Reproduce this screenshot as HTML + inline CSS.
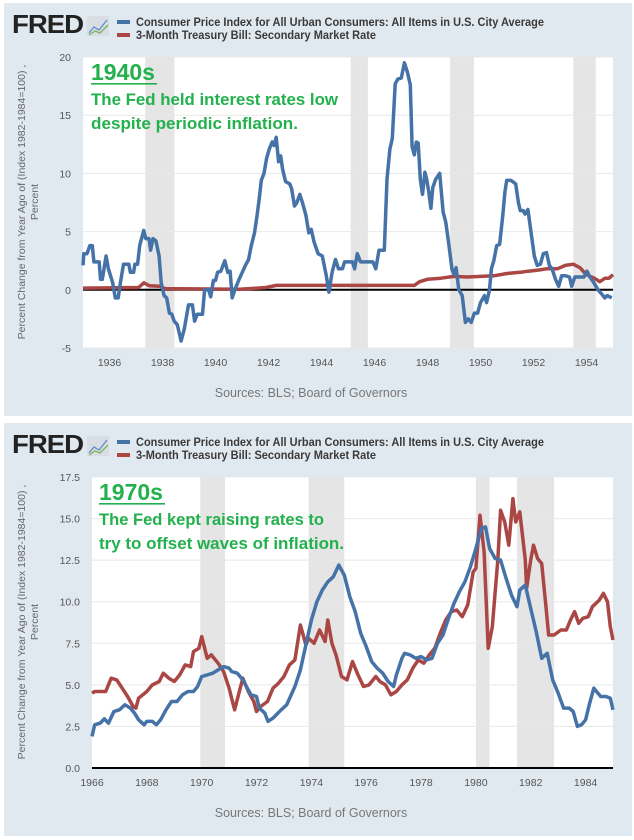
<!DOCTYPE html>
<html><head><meta charset="utf-8"><style>
html,body{margin:0;padding:0;background:#fff;}
svg{display:block;font-family:"Liberation Sans",sans-serif;}
</style></head><body>
<svg id="c" width="634" height="840" xmlns="http://www.w3.org/2000/svg"></svg>
<script>
// ---- Top chart data (1935-1955)
const topCpiYears=[1935.00,1935.03,1935.15,1935.26,1935.35,1935.41,1935.61,1935.66,1935.73,1935.87,1935.96,1936.12,1936.22,1936.33,1936.41,1936.53,1936.73,1936.79,1936.91,1936.96,1937.06,1937.14,1937.29,1937.37,1937.49,1937.55,1937.64,1937.75,1937.87,1937.95,1938.06,1938.16,1938.26,1938.35,1938.44,1938.56,1938.70,1938.82,1938.98,1939.13,1939.21,1939.31,1939.51,1939.59,1939.74,1939.82,1939.92,1940.00,1940.08,1940.20,1940.35,1940.46,1940.55,1940.63,1940.73,1940.89,1941.01,1941.13,1941.25,1941.35,1941.47,1941.57,1941.65,1941.73,1941.83,1941.93,1942.03,1942.14,1942.21,1942.29,1942.38,1942.46,1942.53,1942.64,1942.80,1942.87,1942.98,1943.07,1943.18,1943.28,1943.41,1943.52,1943.61,1943.72,1943.87,1944.03,1944.18,1944.28,1944.40,1944.53,1944.64,1944.79,1944.87,1945.02,1945.17,1945.25,1945.35,1945.47,1945.63,1945.94,1946.05,1946.17,1946.28,1946.37,1946.47,1946.58,1946.67,1946.78,1946.88,1947.01,1947.13,1947.24,1947.35,1947.42,1947.50,1947.58,1947.65,1947.73,1947.81,1947.90,1947.97,1948.05,1948.13,1948.20,1948.31,1948.46,1948.59,1948.69,1948.81,1948.92,1949.00,1949.08,1949.18,1949.31,1949.43,1949.54,1949.65,1949.77,1949.89,1950.00,1950.15,1950.23,1950.34,1950.41,1950.50,1950.61,1950.72,1950.84,1950.92,1950.99,1951.15,1951.33,1951.43,1951.50,1951.61,1951.68,1951.79,1951.91,1952.03,1952.14,1952.26,1952.37,1952.49,1952.60,1952.70,1952.83,1952.95,1953.06,1953.21,1953.36,1953.44,1953.56,1953.71,1953.90,1954.02,1954.13,1954.28,1954.43,1954.55,1954.69,1954.78,1954.95];
const topCpiValues=[2.1,3.1,3.1,3.8,3.8,2.4,2.4,0.9,0.9,2.9,1.8,0.6,-0.7,-0.7,0.6,2.2,2.2,1.5,1.5,2.2,2.2,3.8,5.1,4.4,4.4,3.4,4.4,4.2,2.9,0.6,-0.5,-0.7,-2.0,-2.1,-2.7,-3.0,-4.4,-3.4,-1.3,-1.3,-2.7,-2.1,-2.1,0,0,-0.6,0.8,0.8,1.5,1.6,2.5,1.5,1.6,-0.7,0,0.9,1.5,2.1,2.6,3.8,4.9,6.4,7.8,9.4,10,11.3,12.1,12.7,12.4,13.1,11.0,11.5,10.4,9.3,9.1,8.7,7.2,7.5,8.2,7.5,6.4,4.9,5.2,4.1,3.1,2.9,1.2,-0.2,1.5,2.6,1.8,1.8,2.4,2.4,2.4,1.8,3.1,2.4,2.4,2.4,1.8,3.4,3.4,3.4,9.5,12.1,13.0,17.7,18.1,18.2,19.5,18.7,17.6,12.3,11.6,12.7,12.6,9.5,8.2,10.1,9.5,8.4,7.0,8.8,9.5,10.0,6.7,5.8,3.8,1.8,1.35,1.9,0,-0.5,-2.8,-2.5,-2.8,-2.0,-2.0,-1.1,-0.5,-1.1,0,1.8,2.5,3.8,3.9,6.4,8.4,9.4,9.4,9.1,7.5,6.8,6.8,6.5,6.9,4.9,2.9,2.1,2.2,3.1,3.2,2.1,1.8,0.9,0.3,1.2,1.2,1.1,0.3,1.1,1.1,1.1,1.6,1.1,0.6,0,-0.3,-0.7,-0.5,-0.7];
const topTbYears=[1935.0,1937.1,1937.3,1937.5,1937.9,1938.1,1940.9,1941.3,1941.9,1942.3,1947.5,1947.7,1948.0,1948.5,1949.0,1949.5,1950.0,1950.5,1951.0,1951.5,1951.8,1952.2,1952.5,1952.9,1953.2,1953.5,1953.75,1954.0,1954.3,1954.5,1954.7,1954.85,1955.0];
const topTbValues=[0.15,0.2,0.6,0.35,0.3,0.1,0.05,0.1,0.2,0.38,0.38,0.7,0.9,1.0,1.15,1.1,1.15,1.2,1.4,1.5,1.6,1.7,1.8,1.8,2.1,2.2,1.9,1.3,1.0,0.7,1.0,1.0,1.3];
const topRecessions=[[1937.35,1938.45],[1945.1,1945.75],[1948.85,1949.75],[1953.5,1954.35]];
const topYTicks=[-5,0,5,10,15,20];
const topXTicks=[1936,1938,1940,1942,1944,1946,1948,1950,1952,1954];

// ---- Bottom chart data (1966-1985)
const botCpiYears=[1966.0,1966.1,1966.3,1966.45,1966.6,1966.8,1967.0,1967.2,1967.4,1967.55,1967.7,1967.9,1968.0,1968.2,1968.35,1968.5,1968.7,1968.9,1969.1,1969.3,1969.5,1969.7,1969.85,1970.0,1970.2,1970.4,1970.6,1970.8,1971.0,1971.1,1971.3,1971.5,1971.8,1972.0,1972.1,1972.3,1972.42,1972.6,1972.9,1973.1,1973.4,1973.6,1973.8,1974.0,1974.2,1974.4,1974.6,1974.8,1975.0,1975.2,1975.4,1975.6,1975.8,1976.0,1976.2,1976.4,1976.6,1976.8,1977.0,1977.1,1977.3,1977.4,1977.6,1977.8,1978.0,1978.2,1978.4,1978.6,1978.8,1979.0,1979.2,1979.4,1979.6,1979.8,1980.0,1980.2,1980.35,1980.5,1980.7,1980.9,1981.1,1981.3,1981.5,1981.6,1981.8,1982.0,1982.2,1982.4,1982.6,1982.8,1983.0,1983.2,1983.4,1983.55,1983.7,1983.85,1984.0,1984.15,1984.3,1984.55,1984.75,1984.9,1985.0];
const botCpiValues=[1.9,2.6,2.7,2.95,2.7,3.4,3.5,3.8,3.6,3.3,2.9,2.6,2.8,2.8,2.6,2.9,3.5,4.0,4.0,4.4,4.6,4.6,4.9,5.5,5.6,5.7,5.9,6.1,6.0,5.8,5.7,5.3,4.4,4.3,3.6,3.3,2.8,3.0,3.5,3.8,4.9,5.9,7.4,8.9,10.0,10.7,11.2,11.5,12.2,11.6,10.3,9.4,8.1,7.3,6.4,6.0,5.7,5.2,4.9,5.6,6.6,6.9,6.8,6.6,6.7,6.5,6.6,7.5,8.0,9.0,9.9,10.6,11.2,12.1,13.2,14.4,14.5,13.2,12.6,12.5,11.4,10.4,9.7,10.7,11.0,9.6,8.2,6.6,6.9,5.3,4.5,3.6,3.6,3.4,2.5,2.6,2.9,3.9,4.8,4.3,4.3,4.2,3.5];
const botTbYears=[1966.0,1966.1,1966.5,1966.7,1966.9,1967.1,1967.3,1967.5,1967.6,1967.7,1968.0,1968.2,1968.45,1968.6,1968.8,1969.0,1969.2,1969.4,1969.6,1969.7,1969.9,1970.0,1970.2,1970.35,1970.6,1970.8,1971.0,1971.2,1971.5,1971.7,1971.9,1972.0,1972.15,1972.4,1972.6,1972.8,1973.0,1973.2,1973.4,1973.6,1973.8,1973.9,1974.1,1974.3,1974.5,1974.6,1974.75,1974.9,1975.1,1975.3,1975.5,1975.7,1975.9,1976.1,1976.35,1976.5,1976.7,1976.9,1977.1,1977.3,1977.5,1977.7,1977.9,1978.1,1978.3,1978.5,1978.7,1978.9,1979.1,1979.3,1979.5,1979.7,1979.9,1980.0,1980.15,1980.3,1980.45,1980.6,1980.8,1980.9,1981.05,1981.2,1981.35,1981.45,1981.6,1981.8,1981.85,1982.0,1982.1,1982.25,1982.4,1982.55,1982.65,1982.85,1983.1,1983.3,1983.45,1983.6,1983.75,1983.9,1984.1,1984.25,1984.5,1984.65,1984.8,1984.9,1985.0];
const botTbValues=[4.5,4.6,4.6,5.4,5.3,4.8,4.3,3.7,3.6,4.2,4.6,5.0,5.2,5.7,5.4,5.2,5.6,6.2,6.1,7.0,7.2,7.9,6.6,6.8,6.3,5.8,4.8,3.5,5.4,4.6,4.0,3.4,3.7,4.0,4.8,5.1,5.5,6.2,6.5,8.6,7.4,7.8,7.5,8.3,7.6,8.9,7.5,6.8,5.5,5.3,6.4,5.6,4.9,5.0,5.5,5.2,5.0,4.4,4.6,5.0,5.3,6.0,6.5,6.3,6.8,7.2,8.1,8.9,9.4,9.5,9.1,9.8,11.8,12.0,15.2,13.0,7.2,8.5,12.5,15.5,14.8,13.4,16.2,14.8,15.4,12.5,10.8,12.5,13.4,12.6,12.3,9.8,8.0,8.0,8.3,8.3,8.9,9.4,8.7,9.0,9.1,9.7,10.1,10.5,10.0,8.5,7.7];
const botRecessions=[[1969.95,1970.85],[1973.9,1975.2],[1980.0,1980.5],[1981.5,1982.85]];
const botYTicks=[0,2.5,5,7.5,10,12.5,15,17.5];
const botXTicks=[1966,1968,1970,1972,1974,1976,1978,1980,1982,1984];

const NS="http://www.w3.org/2000/svg";
const svg=document.getElementById('c');
function mk(tag,attrs,parent,text){const e=document.createElementNS(NS,tag);for(const k in attrs)e.setAttribute(k,attrs[k]);if(text!==undefined)e.textContent=text;(parent||svg).appendChild(e);return e;}

function panel(cfg){
  const g=mk('g',{});
  
  
  const oy=cfg.oy;
  const bg=mk('rect',{x:4,y:oy+3,width:628,height:413,fill:'#e1e9f0'},g);
  
  
  const logo=mk('text',{x:12,y:oy+33,'font-size':26,'font-weight':'bold',fill:'#222','letter-spacing':'-1',textLength:71,lengthAdjust:'spacingAndGlyphs'},g,'FRED');
  
  
  const ic=mk('rect',{x:87,y:oy+16,width:22,height:20,fill:'#d8dee4'},g);
  
  
  mk('polyline',{points:`${89},${oy+33} ${94},${oy+27} ${99},${oy+30} ${107},${oy+20}`,fill:'none',stroke:'#5b8fc7','stroke-width':1.3},g);
  mk('polyline',{points:`${89},${oy+35} ${95},${oy+31} ${100},${oy+33} ${108},${oy+25}`,fill:'none',stroke:'#7bb35a','stroke-width':1.3},g);
  const l1=mk('g',{},g);
  
  
  mk('rect',{x:117,y:oy+20,width:13,height:4,fill:'#4572a7'},l1);
  mk('text',{x:136,y:oy+26,'font-size':11.5,'font-weight':'bold',fill:'#3a3a3a',textLength:408,lengthAdjust:'spacingAndGlyphs'},l1,'Consumer Price Index for All Urban Consumers: All Items in U.S. City Average');
  const l2=mk('g',{},g);
  
  
  mk('rect',{x:117,y:oy+33,width:13,height:4,fill:'#aa4643'},l2);
  mk('text',{x:136,y:oy+39,'font-size':11.5,'font-weight':'bold',fill:'#3a3a3a',textLength:240,lengthAdjust:'spacingAndGlyphs'},l2,'3-Month Treasury Bill: Secondary Market Rate');
  const L=cfg.left,R=613,T=oy+cfg.top,B=oy+cfg.bottom;
  const X=v=>L+(v-cfg.x0)/(cfg.x1-cfg.x0)*(R-L);
  const Y=v=>B-(v-cfg.y0)/(cfg.y1-cfg.y0)*(B-T);
  const pa=mk('rect',{x:L,y:T,width:R-L,height:B-T,fill:'#fff'},g);
  
  
  cfg.rec.forEach(r=>{const e=mk('rect',{x:X(r[0]),y:T,width:X(r[1])-X(r[0]),height:B-T,fill:'#e5e5e5'},g);
    
    });
  cfg.yt.forEach(v=>{
    const gl=mk('line',{x1:L,x2:R,y1:Y(v),y2:Y(v),stroke:'#e8e8e8','stroke-width':1},g);
    
    
    const t=mk('text',{x:L-12,y:Y(v)+4,'font-size':10.5,fill:'#555','text-anchor':'end'},g,cfg.fmt(v));
    
    
  });
  cfg.xt.forEach(v=>{
    const t=mk('text',{x:X(v),y:B+18,'font-size':10.5,fill:'#555','text-anchor':'middle'},g,String(v));
    
    
  });
  const ytl=mk('text',{transform:`translate(25,${oy+202}) rotate(-90)`,'font-size':10.5,fill:'#666','text-anchor':'middle'},g,'Percent Change from Year Ago of (Index 1982-1984=100) ,');
  
  
  mk('text',{transform:`translate(38,${oy+202}) rotate(-90)`,'font-size':10.5,fill:'#666','text-anchor':'middle'},g,'Percent');
  const zl=mk('line',{x1:L,x2:R,y1:Y(0),y2:Y(0),stroke:'#000','stroke-width':2},g);
  
  
  function series(xs,ys,col,name){
    const p=mk('polyline',{points:xs.map((x,i)=>X(x).toFixed(1)+','+Y(ys[i]).toFixed(1)).join(' '),fill:'none',stroke:col,'stroke-width':3.5,'stroke-linejoin':'round'},g);
    
    
  }
  series(cfg.tbx,cfg.tby,'#aa4643','tbill-line');
  series(cfg.cpix,cfg.cpiy,'#4572a7','cpi-line');
  const src=mk('text',{x:311,y:oy+397,'font-size':12.5,fill:'#777','text-anchor':'middle'},g,'Sources: BLS; Board of Governors');
  
  
  const a=mk('text',{x:cfg.ax,y:oy+cfg.ay,'font-size':23,'font-weight':'bold',fill:'#22b14c'},g,cfg.title);
  
  
  mk('rect',{x:cfg.ax,y:oy+cfg.ay+3,width:cfg.ulw,height:1.6,fill:'#22b14c'},g);
  cfg.lines.forEach((s,i)=>{const t=mk('text',{x:cfg.ax,y:oy+cfg.ay+25+i*24,'font-size':16.5,'font-weight':'bold',fill:'#22b14c',textLength:cfg.lw[i],lengthAdjust:'spacingAndGlyphs'},g,s);
    
    });
}
panel({name:'chart-1940s',oy:0,left:83,top:57,bottom:348,x0:1935,x1:1955,y0:-5,y1:20,rec:topRecessions,yt:topYTicks,xt:topXTicks,fmt:v=>String(v),
  cpix:topCpiYears,cpiy:topCpiValues,tbx:topTbYears,tby:topTbValues,title:'1940s',ax:91,ay:80,ulw:66,lw:[247,207],
  lines:['The Fed held interest rates low','despite periodic inflation.']});
panel({name:'chart-1970s',oy:420,left:92,top:57,bottom:348,x0:1966,x1:1985,y0:0,y1:17.5,rec:botRecessions,yt:botYTicks,xt:botXTicks,fmt:v=>v.toFixed(1),
  cpix:botCpiYears,cpiy:botCpiValues,tbx:botTbYears,tby:botTbValues,title:'1970s',ax:99,ay:80,ulw:66,lw:[225,245],
  lines:['The Fed kept raising rates to','try to offset waves of inflation.']});
</script>
</body></html>
